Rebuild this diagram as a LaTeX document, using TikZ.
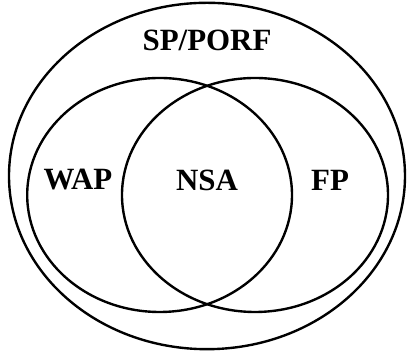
\documentclass[tikz,border=0pt]{standalone}
\usepackage{fontspec}
\setmainfont{Liberation Serif}
\usepackage{tikz}
\tikzset{
  setline/.style={line width=1.7pt,draw=black},
  setlabel/.style={font=\bfseries\fontsize{22}{25}\selectfont,inner sep=1pt}
}

\begin{document}
\begin{tikzpicture}
  \useasboundingbox (0,0) rectangle (10.175,8.9);

  % sets
  \draw[setline] (5.175,4.5) ellipse [x radius=4.95cm,y radius=4.33cm];
  \draw[setline] (3.99,4.025) ellipse [x radius=3.31cm,y radius=2.925cm];
  \draw[setline] (6.375,4.025) ellipse [x radius=3.325cm,y radius=2.925cm];

  % labels
  \node[setlabel] (sp)  at (5.175,7.9) {SP/PORF};
  \node[setlabel] (wap) at (1.95,4.4)  {WAP};
  \node[setlabel] (nsa) at (5.175,4.4) {NSA};
  \node[setlabel] (fp)  at (8.25,4.4)  {FP};
\end{tikzpicture}
\end{document}
